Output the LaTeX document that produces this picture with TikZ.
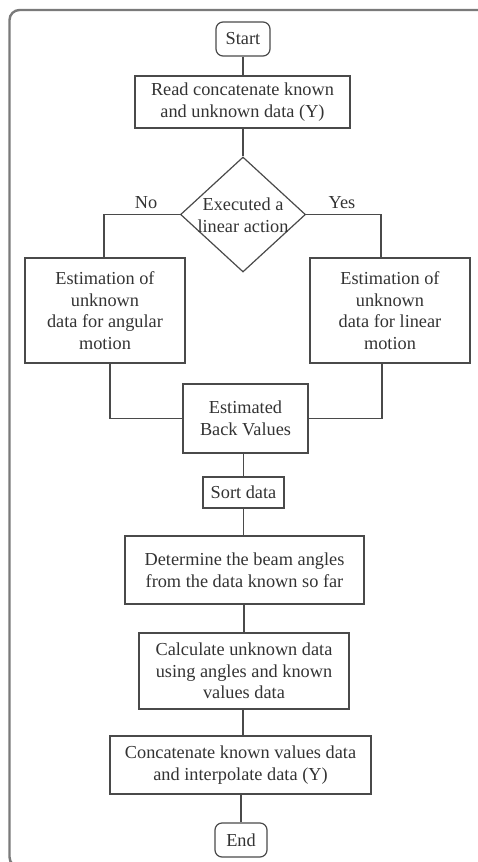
\documentclass[tikz,border=0pt]{standalone}
\usepackage{fontspec}
\setmainfont{Liberation Serif}
\usetikzlibrary{shapes.geometric,calc}
\definecolor{framegray}{HTML}{7A7A7A}
\definecolor{linegray}{HTML}{4A4A4A}
\definecolor{textgray}{HTML}{333333}
\begin{document}
\begin{tikzpicture}[x=1pt,y=-1pt,
  every node/.style={font=\fontsize{18.3}{21.6}\selectfont, text=textgray},
  procbox/.style={draw=linegray, line width=1.2pt, rectangle, inner sep=0pt, align=center},
  termbox/.style={draw=linegray, line width=1.2pt, rectangle, rounded corners=7pt, inner sep=0pt, align=center},
  decbox/.style={draw=linegray, line width=1.2pt, diamond, inner sep=0pt, minimum width=125pt, minimum height=115pt},
  link/.style={draw=linegray, line width=1.4pt},
  branchlabel/.style={inner sep=0pt}]
\useasboundingbox (0,0) rectangle (477,862);

% outer frame
\draw[framegray, line width=2.4pt, rounded corners=10pt] (9.5,10) rectangle (520,867);

% terminals and steps
\node[termbox, minimum width=54pt, minimum height=34pt] (start) at (243,39) {Start};
\node[procbox, minimum width=215pt, minimum height=52pt] (read) at (242.5,102) {Read concatenate known\\and unknown data (Y)};
\node[decbox] (dec) at (243,214.5) {};
\node[inner sep=0pt, align=center] (declabel) at (243,215) {Executed a\\linear action};
\node[branchlabel] (nolabel) at (146,203) {No};
\node[branchlabel] (yeslabel) at (342,203) {Yes};
\node[procbox, minimum width=160pt, minimum height=105pt] (angular) at (105,310.5) {Estimation of\\unknown\\data for angular\\motion};
\node[procbox, minimum width=160pt, minimum height=105pt] (linear) at (390,310.5) {Estimation of\\unknown\\data for linear\\motion};
\node[procbox, minimum width=125pt, minimum height=69pt] (est) at (245.5,418.5) {Estimated\\Back Values};
\node[procbox, minimum width=81pt, minimum height=31pt] (sort) at (243.5,492.5) {Sort data};
\node[procbox, minimum width=239pt, minimum height=68pt] (beam) at (244.5,570) {Determine the beam angles\\from the data known so far};
\node[procbox, minimum width=210pt, minimum height=76pt] (calcu) at (244,671) {Calculate unknown data\\using angles and known\\values data};
\node[procbox, minimum width=261pt, minimum height=58pt] (concat) at (240.5,765) {Concatenate known values data\\and interpolate data (Y)};
\node[termbox, minimum width=52pt, minimum height=34pt] (finish) at (241,840) {End};

% connectors (kept vertical)
\draw[link] (start.south) -- (start.south |- read.north);
\draw[link] (dec.north |- read.south) -- (dec.north);
\draw[link] (dec.west) -| ([xshift=-1pt]angular.north);
\draw[link] (dec.east) -| ([xshift=-9pt]linear.north);
\draw[link] ([xshift=5pt]angular.south) |- (est.west);
\draw[link] ([xshift=-8pt]linear.south) |- (est.east);
\draw[link] (sort.north |- est.south) -- (sort.north);
\draw[link] (sort.south) -- (sort.south |- beam.north);
\draw[link] (calcu.north |- beam.south) -- (calcu.north);
\draw[link] ([xshift=-1pt]calcu.south) -- ([xshift=-1pt]calcu.south |- concat.north);
\draw[link] (finish.north |- concat.south) -- (finish.north);
\end{tikzpicture}
\end{document}
